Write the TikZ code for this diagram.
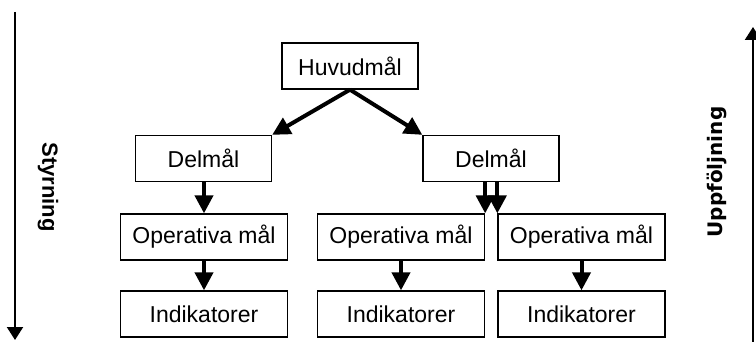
\documentclass[tikz,border=0pt]{standalone}
\usepackage{fontspec}
\setmainfont{Liberation Sans}
\newfontfamily\sidefont{DejaVu Sans}
\usetikzlibrary{arrows.meta}

\begin{document}
\begin{tikzpicture}[x=0.5pt, y=-0.5pt,
    goal/.style={draw, line width=0.65pt, minimum width=83.5pt, minimum height=23pt,
        inner sep=0pt, font=\fontsize{11.5}{13}\selectfont},
    topgoal/.style={goal, minimum width=68pt},
    flow/.style={line width=2pt, -{Triangle[width=9pt,length=9pt]}},
    side/.style={line width=1.1pt, -{Triangle[width=8pt,length=6.5pt]}}]

% Picture frame (pixel coordinates, y downwards)
\useasboundingbox (0,0) rectangle (756,342);

% Top level
\node[topgoal] (huvud) at (350,66) {Huvudmål};

% Second level
\node[topgoal] (delA) at (203.5,158.5) {Delmål};
\node[topgoal] (delB) at (491,158.5) {Delmål};

% Third level
\node[goal] (opA) at (204,237) {Operativa mål};
\node[goal] (opB) at (401,237) {Operativa mål};
\node[goal] (opC) at (581.5,237) {Operativa mål};

% Fourth level
\node[goal] (indA) at (204,314) {Indikatorer};
\node[goal] (indB) at (401,314) {Indikatorer};
\node[goal] (indC) at (581.5,314) {Indikatorer};

% Arrows between the levels
\draw[flow] (huvud.south) -- (delA.north east);
\draw[flow] (huvud.south) -- (delB.north west);
\draw[flow] (delA.south -| opA) -- (opA.north);
\draw[flow] (delB.south -| opB.east) -- (opB.north east);
\draw[flow] (delB.south -| opC.west) -- (opC.north west);
\draw[flow] (opA.south) -- (indA.north);
\draw[flow] (opB.south) -- (indB.north);
\draw[flow] (opC.south) -- (indC.north);

% Side arrows
\coordinate (styrTop) at (15,12);
\coordinate (styrEnd) at (15,340);
\coordinate (uppStart) at (753,342);
\coordinate (uppEnd) at (753,27);
\draw[side] (styrTop) -- (styrEnd);
\draw[side] (uppStart) -- (uppEnd);
\node[rotate=-90, font=\bfseries\fontsize{11}{13}\selectfont] (styr) at (48,187) {Styrning};
\node[rotate=90, font=\sidefont\bfseries\fontsize{10}{12}\selectfont] (upp) at (717,172) {Uppföljning};

\end{tikzpicture}
\end{document}
